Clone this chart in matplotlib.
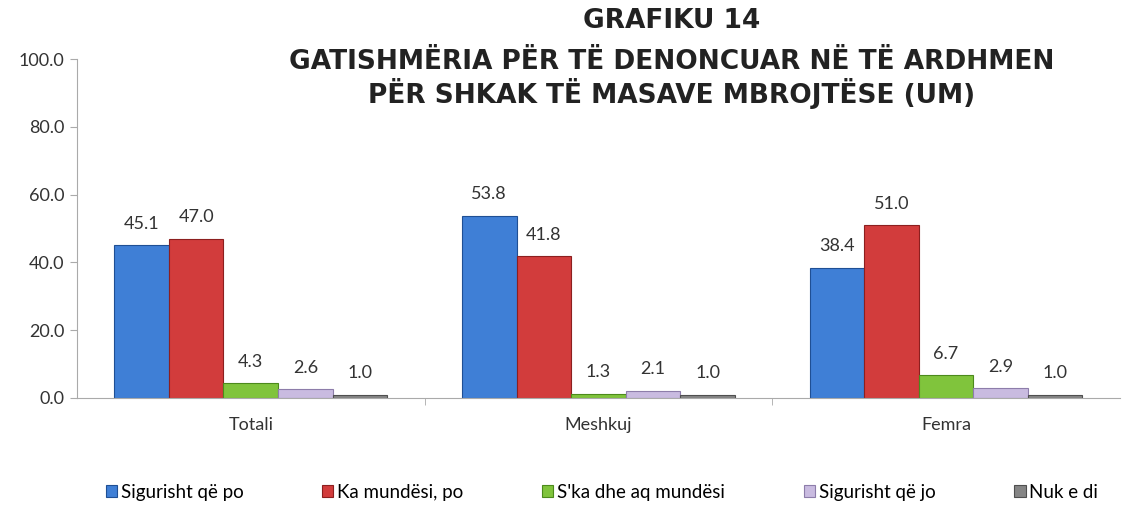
import numpy as np
import matplotlib.pyplot as plt

plt.rcParams['font.family'] = ['Lato', 'DejaVu Sans']

categories = ['Totali', 'Meshkuj', 'Femra']
series = ['Sigurisht që po', 'Ka mundësi, po', "S'ka dhe aq mundësi", 'Sigurisht që jo', 'Nuk e di']
values = [
    [45.1, 53.8, 38.4],
    [47.0, 41.8, 51.0],
    [4.3, 1.3, 6.7],
    [2.6, 2.1, 2.9],
    [1.0, 1.0, 1.0],
]
colors = ['#3f7fd6', '#d23c3c', '#80c43c', '#c9bbe0', '#858585']
edges = ['#1f4f94', '#8c1f1f', '#4c8a1c', '#8d7daa', '#4f4f4f']

fig = plt.figure(figsize=(11.25, 5.05), dpi=100)
ax = fig.add_axes([0.0684, 0.212, 0.927, 0.671])

x = np.arange(len(categories))
w = 0.157
for i, s in enumerate(series):
    pos = x + (i - 2) * w
    bars = ax.bar(pos, values[i], w, color=colors[i], edgecolor=edges[i], linewidth=0.8, label=s)
    for b, v in zip(bars, values[i]):
        ax.text(b.get_x() + b.get_width() / 2, v + 4, f'{v:.1f}', ha='center', va='bottom',
                fontsize=13, color='#333333')

ax.set_xlim(-0.5, 2.5)
ax.set_ylim(0, 100)
ax.set_yticks(np.arange(0, 101, 20))
ax.set_yticklabels([f'{t:.1f}' for t in np.arange(0, 101, 20)], fontsize=13, color='#333333')
ax.set_xticks(x)
ax.set_xticklabels(categories, fontsize=13, color='#333333')
ax.tick_params(axis='x', length=0, pad=14)
ax.set_xticks([0.5, 1.5], minor=True)
ax.tick_params(axis='x', which='minor', length=5, color='#aaaaaa')
ax.tick_params(axis='y', length=5, color='#aaaaaa', pad=4)
for sp in ['top', 'right']:
    ax.spines[sp].set_visible(False)
for sp in ['left', 'bottom']:
    ax.spines[sp].set_color('#aaaaaa')

title_lines = ['GRAFIKU 14', 'GATISHMËRIA PËR TË DENONCUAR NË TË ARDHMEN', 'PËR SHKAK TË MASAVE MBROJTËSE (UM)']
for line, yy in zip(title_lines, [0.958, 0.877, 0.814]):
    fig.text(0.597, yy, line, ha='center', va='center', fontsize=19, fontweight='bold',
             family=['DejaVu Sans'], color='#222222')

fig.legend(loc='center', bbox_to_anchor=(0.535, 0.025), ncol=5, frameon=False,
           fontsize=13.5, handlelength=0.6, handleheight=0.6, handletextpad=0.2, columnspacing=4.2)

fig.savefig('out.png', dpi=100)
